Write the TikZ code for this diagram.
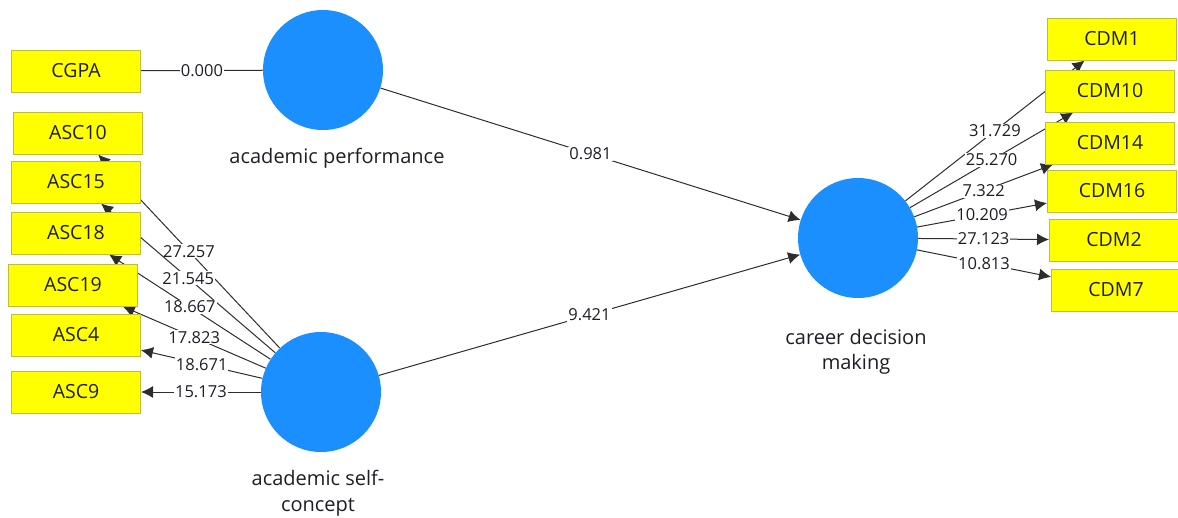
\documentclass[tikz,border=0pt]{standalone}
\usepackage{fontspec}
\setmainfont{Open Sans}
\usetikzlibrary{arrows.meta,backgrounds}
\definecolor{lvblue}{RGB}{28,143,255}
\definecolor{boxyellow}{RGB}{255,255,0}
\definecolor{boxborder}{RGB}{190,190,60}
\definecolor{linegray}{RGB}{45,45,45}
\definecolor{txt}{RGB}{30,30,40}
\tikzset{
  lv/.style={circle, fill=lvblue, minimum size=120pt, inner sep=0pt},
  ind/.style={rectangle, draw=boxborder, line width=1pt, fill=boxyellow, minimum width=129pt, minimum height=42pt, inner sep=0pt, text=txt, font=\fontsize{19.5}{22}\selectfont},
  clab/.style={align=center, text=txt, font=\fontsize{20}{25.5}\selectfont},
  conn/.style={draw=linegray, line width=1pt},
  arr/.style={conn, -{Latex[length=12pt,width=12pt]}},
  wl/.style={fill=white, inner sep=1pt, text=txt, font=\fontsize{16.5}{18}\selectfont}
}
\begin{document}
\begin{tikzpicture}[x=1pt,y=-1pt]
\useasboundingbox (0,0) rectangle (1178,517);
% latent variables
\node[lv] (ap) at (323,70) {};
\node[lv] (asc) at (321,392) {};
\node[lv] (cdm) at (858,238) {};
\node[clab] (apl) at (337,158) {academic performance};
\node[clab] (ascl) at (318,493) {academic self-\\concept};
\node[clab] (cdml) at (856,352) {career decision\\making};
% indicators
\node[ind] (cgpa) at (76,71) {CGPA};
\node[ind] (asc10) at (78,133) {ASC10};
\node[ind] (asc15) at (76,182) {ASC15};
\node[ind] (asc18) at (76,233) {ASC18};
\node[ind] (asc19) at (73,285) {ASC19};
\node[ind] (asc4) at (76,335) {ASC4};
\node[ind] (asc9) at (76,392) {ASC9};
\node[ind] (cdm1) at (1112,39) {CDM1};
\node[ind] (cdm10) at (1110,91) {CDM10};
\node[ind] (cdm14) at (1110,143) {CDM14};
\node[ind] (cdm16) at (1112,191) {CDM16};
\node[ind] (cdm2) at (1114,240) {CDM2};
\node[ind] (cdm7) at (1116,290) {CDM7};
\begin{scope}[on background layer]
\draw[conn] (cgpa) -- node[wl]{0.000} (ap);
\draw[arr] (ap) -- node[wl]{0.981} (cdm);
\draw[arr] (asc) -- node[wl]{9.421} (cdm);
\draw[arr] (asc) -- node[wl]{27.257} (asc10);
\draw[arr] (asc) -- node[wl]{21.545} (asc15);
\draw[arr] (asc) -- node[wl]{18.667} (asc18);
\draw[arr] (asc) -- node[wl]{17.823} (asc19);
\draw[arr] (asc) -- node[wl]{18.671} (asc4);
\draw[arr] (asc) -- node[wl]{15.173} (asc9);
\draw[arr] (cdm) -- node[wl]{31.729} (cdm1);
\draw[arr] (cdm) -- node[wl]{25.270} (cdm10);
\draw[arr] (cdm) -- node[wl]{7.322} (cdm14);
\draw[arr] (cdm) -- node[wl]{10.209} (cdm16);
\draw[arr] (cdm) -- node[wl]{27.123} (cdm2);
\draw[arr] (cdm) -- node[wl]{10.813} (cdm7);
\end{scope}
\end{tikzpicture}
\end{document}
